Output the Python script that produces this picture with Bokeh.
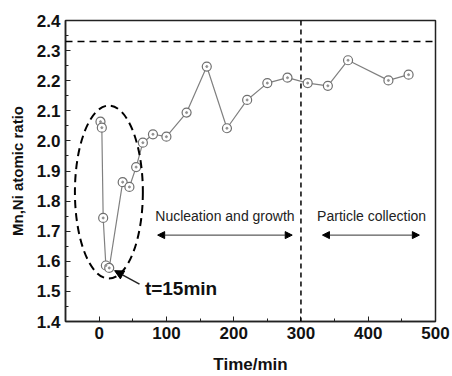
from bokeh.plotting import figure
from bokeh.models import FixedTicker, Span, Arrow, NormalHead, Label, CustomJSTickFormatter
from bokeh.embed import file_html
from bokeh.resources import INLINE

# data
time_min = [2, 4, 6, 10, 15, 35, 45, 55, 65, 80, 100, 130, 160, 190, 220, 250, 280, 310, 340, 370, 430, 460]
ratio = [2.064, 2.044, 1.744, 1.586, 1.578, 1.863, 1.847, 1.913, 1.994, 2.022, 2.014, 2.094,
         2.247, 2.042, 2.136, 2.192, 2.210, 2.192, 2.183, 2.268, 2.201, 2.220]
target_ratio = 2.33
phase_boundary = 300
x_ticks = [0, 100, 200, 300, 400, 500]
y_ticks = [1.4, 1.5, 1.6, 1.7, 1.8, 1.9, 2.0, 2.1, 2.2, 2.3, 2.4]

FONT = "Liberation Sans"

p = figure(width=450, height=376, x_range=(-50, 500), y_range=(1.4, 2.4),
           output_backend="svg", toolbar_location=None,
           min_border_left=65, min_border_right=15, min_border_top=20, min_border_bottom=55)
p.grid.visible = False
p.outline_line_color = "#222222"
p.outline_line_width = 1.5
p.background_fill_color = "white"
p.border_fill_color = "white"

p.xaxis.ticker = FixedTicker(ticks=x_ticks, minor_ticks=[-50, 50, 150, 250, 350, 450])
p.yaxis.ticker = FixedTicker(ticks=y_ticks,
                             minor_ticks=[1.45, 1.55, 1.65, 1.75, 1.85, 1.95, 2.05, 2.15, 2.25, 2.35])
p.yaxis.formatter = CustomJSTickFormatter(code="return tick.toFixed(1);")

for ax in (p.xaxis, p.yaxis):
    ax.major_tick_in = 5
    ax.major_tick_out = 0
    ax.minor_tick_in = 3
    ax.minor_tick_out = 0
    ax.axis_line_color = "#222222"
    ax.axis_line_width = 1.5
    ax.major_tick_line_color = "#222222"
    ax.minor_tick_line_color = "#222222"
    ax.major_label_text_font = FONT
    ax.major_label_text_font_style = "bold"
    ax.major_label_text_font_size = "17px"
    ax.major_label_text_color = "#111111"
    ax.axis_label_text_font = FONT
    ax.axis_label_text_font_style = "bold"
    ax.axis_label_text_color = "#111111"

p.xaxis.axis_label = "Time/min"
p.yaxis.axis_label = "Mn,Ni atomic ratio"
p.xaxis.axis_label_text_font_size = "17px"
p.yaxis.axis_label_text_font_size = "15px"
p.xaxis.major_label_standoff = 5
p.yaxis.major_label_standoff = 5
p.xaxis.axis_label_standoff = 13
p.yaxis.axis_label_standoff = 8

# reference lines
p.add_layout(Span(location=target_ratio, dimension="width", line_color="black",
                  line_dash="7 5", line_width=1.5))
p.add_layout(Span(location=phase_boundary, dimension="height", line_color="black",
                  line_dash="5 4", line_width=1.5))

# data series
p.line(time_min, ratio, line_color="#808080", line_width=1.2)
p.scatter(time_min, ratio, size=9, marker="circle", line_color="#707070",
          fill_color="white", line_width=1.2)
p.scatter(time_min, ratio, size=2, marker="circle", line_color="#909090", fill_color="#909090")

# dashed ellipse around initial drop
p.ellipse(x=[14.5], y=[1.83], width=[101], height=[0.575], fill_color=None,
          line_color="black", line_dash="8 5", line_width=2)

# phase arrows
p.add_layout(Arrow(x_start=87, y_start=1.687, x_end=287, y_end=1.687,
                   start=NormalHead(size=7, fill_color="black", line_color="black"),
                   end=NormalHead(size=7, fill_color="black", line_color="black"),
                   line_color="#333333", line_width=1))
p.add_layout(Arrow(x_start=332, y_start=1.687, x_end=476, y_end=1.687,
                   start=NormalHead(size=7, fill_color="black", line_color="black"),
                   end=NormalHead(size=7, fill_color="black", line_color="black"),
                   line_color="#333333", line_width=1))
p.add_layout(Label(x=187, y=1.75, text="Nucleation and growth", text_align="center",
                   text_baseline="middle", text_font=FONT, text_font_size="14px",
                   text_color="#222222"))
p.add_layout(Label(x=405, y=1.75, text="Particle collection", text_align="center",
                   text_baseline="middle", text_font=FONT, text_font_size="14px",
                   text_color="#222222"))

# t=15min annotation
p.add_layout(Arrow(x_start=60, y_start=1.524, x_end=23, y_end=1.569,
                   end=NormalHead(size=9, fill_color="black", line_color="black"),
                   line_color="#222222", line_width=1.5))
p.add_layout(Label(x=68, y=1.508, text="t=15min", text_align="left",
                   text_baseline="middle", text_font=FONT, text_font_size="19px",
                   text_font_style="bold", text_color="#111111"))

open("out.html", "w").write(file_html(p, INLINE))
